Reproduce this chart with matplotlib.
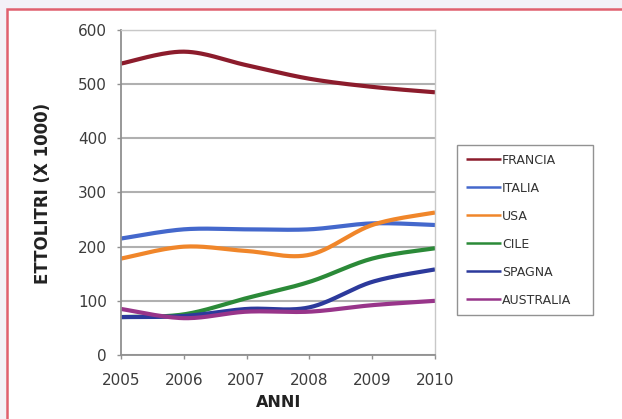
import numpy as np
import matplotlib.pyplot as plt
from matplotlib.patches import Rectangle

# Wine production by country (hectolitres x 1000)
anni = [2005, 2006, 2007, 2008, 2009, 2010]
francia = [538, 560, 535, 510, 495, 485]
italia = [215, 232, 232, 232, 243, 240]
usa = [178, 200, 192, 185, 240, 263]
cile = [70, 75, 105, 135, 178, 197]
spagna = [70, 72, 85, 88, 135, 158]
australia = [85, 68, 80, 80, 92, 100]

series = [
    ('FRANCIA', francia, '#8c1c2c'),
    ('ITALIA', italia, '#4468cc'),
    ('USA', usa, '#f0862a'),
    ('CILE', cile, '#2b8a38'),
    ('SPAGNA', spagna, '#2c3a9c'),
    ('AUSTRALIA', australia, '#98358a'),
]


def smooth(x, y, n=30):
    # Catmull-Rom curve through the points, like a spreadsheet "smoothed line"
    x = np.asarray(x, float)
    y = np.asarray(y, float)
    px = np.concatenate([[x[0]], x, [x[-1]]])
    py = np.concatenate([[y[0]], y, [y[-1]]])
    xs, ys = [], []
    t = np.linspace(0, 1, n)
    for i in range(1, len(px) - 2):
        for p, out in ((px, xs), (py, ys)):
            p0, p1, p2, p3 = p[i - 1], p[i], p[i + 1], p[i + 2]
            c1 = p1 + (p2 - p0) / 6
            c2 = p2 - (p3 - p1) / 6
            out.extend((1 - t) ** 3 * p1 + 3 * (1 - t) ** 2 * t * c1
                       + 3 * (1 - t) * t ** 2 * c2 + t ** 3 * p2)
    return np.array(xs), np.array(ys)


W, H = 622, 419
fig = plt.figure(figsize=(W / 100, H / 100), dpi=100)
fig.patch.set_facecolor('#f3f1f7')
fig.patches.append(Rectangle((7.5 / W, -0.05), 1.1, (H - 9.5) / H + 0.05,
                             transform=fig.transFigure, facecolor='white',
                             edgecolor='#e0606e', linewidth=1.8, zorder=-10))

ax = fig.add_axes([121 / W, 64 / H, 314 / W, 325 / H])
ax.set_facecolor('white')

for name, vals, color in series:
    sx, sy = smooth(anni, vals)
    ax.plot(sx, sy, color=color, linewidth=3.0, label=name, solid_capstyle='butt')

ax.set_xlim(2005, 2010)
ax.set_ylim(0, 600)
ax.set_xticks(anni)
ax.set_yticks(range(0, 601, 100))
ax.grid(axis='y', color='#b0b0b0', linewidth=1.5)
ax.set_axisbelow(True)
for side in ['top', 'right']:
    ax.spines[side].set_color('#c8c8c8')
    ax.spines[side].set_linewidth(1.0)
for side in ['left', 'bottom']:
    ax.spines[side].set_color('#909090')
    ax.spines[side].set_linewidth(1.3)
ax.tick_params(axis='both', direction='out', length=3, width=1, color='#909090',
               labelsize=11, labelcolor='#3c3c3c')
ax.tick_params(axis='x', pad=10)
ax.tick_params(axis='y', pad=7)

fig.text(43 / W, 1 - 193 / H, 'ETTOLITRI (X 1000)', rotation=90, ha='center',
         va='center', fontsize=12, fontweight='bold', color='#222222')
fig.text(279 / W, 1 - 402 / H, 'ANNI', ha='center', va='center',
         fontsize=11.5, fontweight='bold', color='#222222')

leg = ax.legend(loc='upper left',
                bbox_to_anchor=(457 / W, 1 - 316 / H, 136 / W, 171 / H),
                bbox_transform=fig.transFigure, mode='expand',
                fontsize=9, frameon=True, fancybox=False, edgecolor='#777777',
                handlelength=2.8, handletextpad=0.1, labelspacing=1.2,
                borderpad=0.7, borderaxespad=0)
leg.get_frame().set_linewidth(1.0)
for txt in leg.get_texts():
    txt.set_color('#333333')
for line in leg.get_lines():
    line.set_linewidth(1.8)

plt.savefig('out.png', dpi=100, facecolor=fig.get_facecolor())
